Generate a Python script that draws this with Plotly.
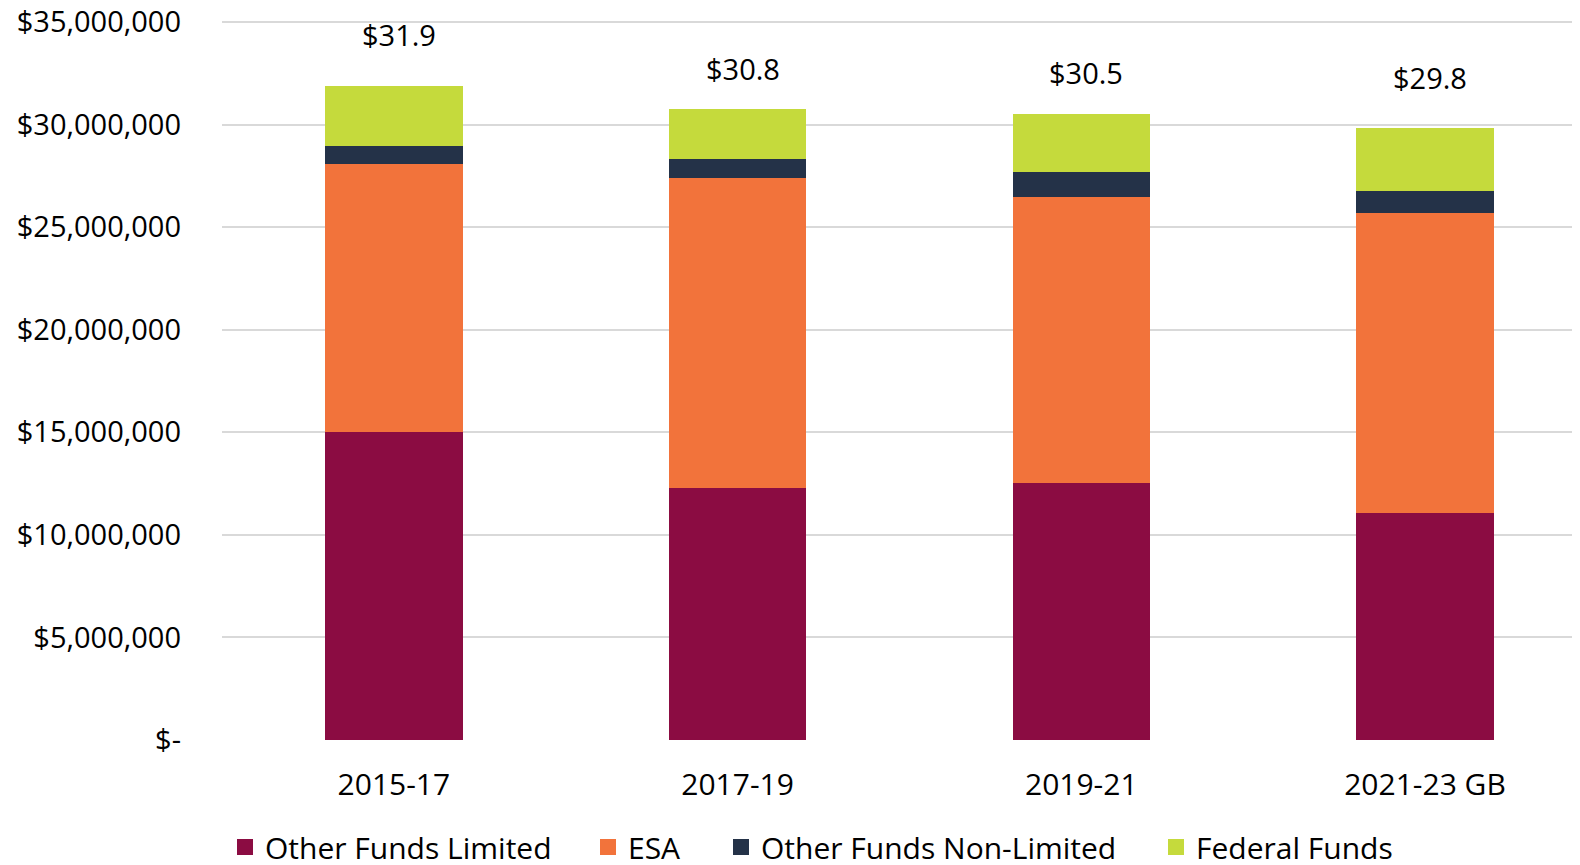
import plotly.graph_objects as go

periods = ["2015-17", "2017-19", "2019-21", "2021-23 GB"]
other_funds_limited = [15000000, 12290000, 12530000, 11060000]
esa = [13070000, 15100000, 13950000, 14610000]
other_funds_non_limited = [910000, 910000, 1200000, 1100000]
federal_funds = [2900000, 2450000, 2840000, 3070000]

tick_vals = [0, 5000000, 10000000, 15000000, 20000000, 25000000, 30000000, 35000000]
tick_text = ["$-", "$5,000,000", "$10,000,000", "$15,000,000", "$20,000,000",
             "$25,000,000", "$30,000,000", "$35,000,000"]

totals = [a + b + c + d for a, b, c, d in
          zip(other_funds_limited, esa, other_funds_non_limited, federal_funds)]
total_labels = ["$%.1f" % (t / 1e6) for t in totals]

FONT = "Open Sans"
FS = 29
# the page body has an 8px margin, so the figure is drawn 8px in from the window edge
W, H = 1572, 857

series = [
    ("Other Funds Limited", other_funds_limited, "#8B0C42"),
    ("ESA", esa, "#F2733B"),
    ("Other Funds Non-Limited", other_funds_non_limited, "#243248"),
    ("Federal Funds", federal_funds, "#C5DA3C"),
]
# left edge (px) of each legend entry
legend_x = [217, 580, 713, 1148]
# how far (px) each total label sits above its bar
label_lift = [52, 41, 41, 50]

fig = go.Figure()
for i, (name, vals, color) in enumerate(series):
    lg = "legend" if i == 0 else "legend%d" % (i + 1)
    fig.add_trace(go.Bar(
        x=periods,
        y=vals,
        name=name,
        width=0.4,
        marker={"color": color, "line": {"width": 0}},
        hoverinfo="skip",
        showlegend=False,
    ))
    # legend-only entry with a larger square swatch
    fig.add_trace(go.Scatter(
        x=[None],
        y=[None],
        mode="markers",
        name=name,
        marker={"symbol": "square", "size": 18, "color": color},
        legend=lg,
        showlegend=True,
    ))

for p, t, lbl, lift in zip(periods, totals, total_labels, label_lift):
    fig.add_annotation(
        x=p, y=t, text=lbl, showarrow=False,
        yanchor="middle", yshift=lift, xshift=5,
        font={"size": FS, "color": "#000000", "family": FONT},
    )

legends = {}
for i, lx in enumerate(legend_x):
    key = "legend" if i == 0 else "legend%d" % (i + 1)
    legends[key] = {
        "orientation": "h",
        "xref": "container",
        "yref": "container",
        "x": lx / W,
        "xanchor": "left",
        "y": 1 - 839 / H,
        "yanchor": "middle",
        "font": {"size": 30, "family": FONT, "color": "#000000"},
        "itemwidth": 30,
        "bgcolor": "rgba(0,0,0,0)",
    }

fig.update_layout(
    barmode="stack",
    width=W,
    height=H,
    paper_bgcolor="white",
    plot_bgcolor="white",
    margin={"l": 214, "r": 0, "t": 13, "b": 125, "autoexpand": False},
    font={"family": FONT, "size": FS, "color": "#000000"},
    xaxis={
        "range": [-0.5, 3.451],
        "showgrid": False,
        "showline": False,
        "ticks": "",
        "ticklabelstandoff": 24,
        "tickfont": {"size": 30},
        "automargin": False,
    },
    yaxis={
        "range": [0, 35050000],
        "tickvals": tick_vals,
        "ticktext": tick_text,
        "showgrid": True,
        "gridcolor": "#D9D9D9",
        "gridwidth": 1.5,
        "zeroline": False,
        "ticks": "",
        "ticklabelstandoff": 40,
        "ticklabeloverflow": "allow",
        "tickfont": {"size": FS},
        "automargin": False,
    },
    **legends,
)

fig.write_html("out.html")
